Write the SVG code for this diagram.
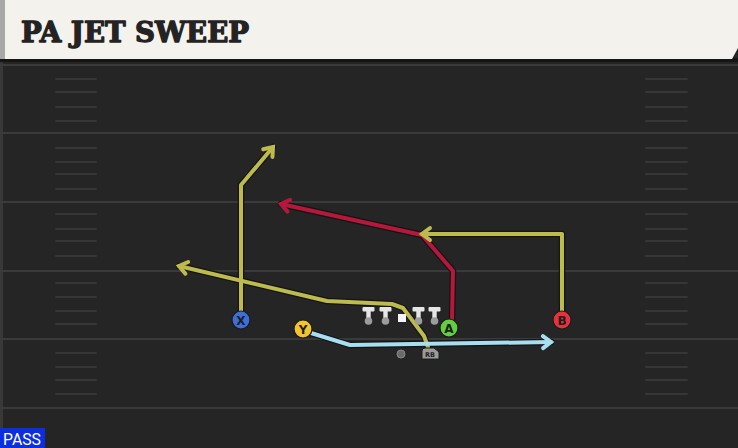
<svg xmlns="http://www.w3.org/2000/svg" width="738" height="448" viewBox="0 0 738 448">
<style>
.yard{stroke:#3a3a3a;stroke-width:2;fill:none}
.hash{stroke:#363636;stroke-width:2;fill:none;stroke-linecap:round}
.outline{stroke:#141414;stroke-width:6.5;fill:none;stroke-linejoin:round;stroke-linecap:round}
.route{stroke-width:4;fill:none;stroke-linejoin:round;stroke-linecap:round}
.olive{stroke:#bdbb4d}
.red{stroke:#b5183a}
.blue{stroke:#a8dff0}
.pl{stroke:#1c1c1c;stroke-width:1.2}
.lbl{font-family:"DejaVu Sans","Liberation Sans",sans-serif;font-weight:bold;font-size:12px;fill:#1e1e1e;text-anchor:middle}
.ol{fill:#e6e6e6}
.olball{fill:#9c9c9c}
</style>
<defs>
<marker id="aOlive" markerUnits="userSpaceOnUse" markerWidth="16" markerHeight="16" refX="0" refY="0" orient="auto" overflow="visible"><path d="M-8,-6 L0,0 L-8,6" fill="none" stroke="#bdbb4d" stroke-width="4" stroke-linejoin="miter" stroke-linecap="round"/></marker>
<marker id="aRed" markerUnits="userSpaceOnUse" markerWidth="16" markerHeight="16" refX="0" refY="0" orient="auto" overflow="visible"><path d="M-8,-6 L0,0 L-8,6" fill="none" stroke="#b5183a" stroke-width="4" stroke-linejoin="miter" stroke-linecap="round"/></marker>
<marker id="aBlue" markerUnits="userSpaceOnUse" markerWidth="16" markerHeight="16" refX="0" refY="0" orient="auto" overflow="visible"><path d="M-8,-6 L0,0 L-8,6" fill="none" stroke="#a8dff0" stroke-width="4" stroke-linejoin="miter" stroke-linecap="round"/></marker>
</defs>

<g id="field">
<rect x="0" y="0" width="738" height="448" fill="#252525"/>
<rect x="0" y="58" width="3" height="390" fill="#383838"/>
<rect x="0" y="58" width="738" height="4" fill="#151515"/>
<path class="yard" d="M0,65H738M0,133H738M0,202H738M0,271H738M0,339H738M0,408H738"/>
<path class="hash" d="M56,79H96M56,92H96M56,107H96M56,121H96M56,148H96M56,162H96M56,174H96M56,189H96M56,214H96M56,229H96M56,241H96M56,256H96M56,283H96M56,297H96M56,311H96M56,324H96M56,353H96M56,367H96M56,380H96M56,394H96"/>
<path class="hash" d="M646,79H687M646,92H687M646,107H687M646,121H687M646,148H687M646,162H687M646,174H687M646,189H687M646,214H687M646,229H687M646,241H687M646,256H687M646,283H687M646,297H687M646,311H687M646,324H687M646,353H687M646,367H687M646,380H687M646,394H687"/>
</g>

<g id="header">
<polygon points="0,0 738,0 738,48 732,59 0,59" fill="#f4f2ec"/>
<rect x="0" y="0" width="5" height="59" fill="#a8a8a8"/>
<text x="21" y="42" font-family="'DejaVu Serif','Liberation Serif',serif" font-weight="bold" font-size="27" fill="#232323" stroke="#232323" stroke-width="1.3" stroke-linejoin="round" textLength="228" lengthAdjust="spacingAndGlyphs">PA JET SWEEP</text>
</g>

<g id="connectors">
<path class="outline" d="M241,311 L241,185 L273,147"/>
<path class="outline" d="M428,347 L424,336 L403,308 L392,304 L327,301 L179,266"/>
<path class="outline" d="M452,319 L453,271 L422,235 L281,204"/>
<path class="outline" d="M562,311 L562,234 L422,234"/>
<path class="outline" d="M311,333 L350,345 L551,342"/>
<path class="route olive" d="M241,311 L241,185 L273,147" marker-end="url(#aOlive)"/>
<path class="route olive" d="M428,347 L424,336 L403,308 L392,304 L327,301 L179,266" marker-end="url(#aOlive)"/>
<path class="route red" d="M452,319 L453,271 L422,235 L281,204" marker-end="url(#aRed)"/>
<path class="route olive" d="M562,311 L562,234 L422,234" marker-end="url(#aOlive)"/>
<path class="route blue" d="M311,333 L350,345 L551,342" marker-end="url(#aBlue)"/>
</g>

<g id="oline">
<g><rect class="ol" x="362.5" y="307" width="12" height="4.5" rx="1"/><rect class="ol" x="366.3" y="307" width="4.4" height="13"/><circle class="olball" cx="368.5" cy="321" r="3.8"/></g>
<g><rect class="ol" x="379.5" y="307" width="12" height="4.5" rx="1"/><rect class="ol" x="383.3" y="307" width="4.4" height="13"/><circle class="olball" cx="385.5" cy="321" r="3.8"/></g>
<g><rect class="ol" x="412.5" y="307" width="12" height="4.5" rx="1"/><rect class="ol" x="416.3" y="307" width="4.4" height="13"/><circle class="olball" cx="418.5" cy="321" r="3.8"/></g>
<g><rect class="ol" x="428.5" y="307" width="12" height="4.5" rx="1"/><rect class="ol" x="432.3" y="307" width="4.4" height="13"/><circle class="olball" cx="434.5" cy="321" r="3.8"/></g>
</g>
<g id="center"><rect x="398" y="314" width="8" height="8" fill="#f4f4f4"/></g>
<g id="qb"><circle cx="401" cy="354" r="4" fill="#6a6a6a" stroke="#8a8a8a" stroke-width="1"/></g>

<g id="X"><circle class="pl" cx="241" cy="320" r="9" fill="#3d6fd6"/><text class="lbl" x="241" y="324.5">X</text></g>
<g id="Y"><circle class="pl" cx="303" cy="329" r="9" fill="#f2c52e"/><text class="lbl" x="303" y="333.5">Y</text></g>
<g id="A"><circle class="pl" cx="449" cy="328" r="9" fill="#62cf3c"/><text class="lbl" x="449" y="332.5">A</text></g>
<g id="B"><circle class="pl" cx="562" cy="320" r="9" fill="#e6323d"/><text class="lbl" x="562" y="324.5">B</text></g>
<g id="RB"><path d="M425,348 H434 L439,352 V359 H422 V351 Q422,348 425,348 Z" fill="#9b9b9b" stroke="#1c1c1c" stroke-width="1"/><text x="430" y="357" font-family="'DejaVu Sans','Liberation Sans',sans-serif" font-weight="bold" font-size="6.5" fill="#222" text-anchor="middle">RB</text></g>

<g id="pass">
<rect x="0" y="428" width="45" height="20" fill="#0b2fe0"/>
<text x="3" y="445" font-family="Roboto,'Liberation Sans',sans-serif" font-size="17" fill="#ffffff" textLength="38" lengthAdjust="spacingAndGlyphs">PASS</text>
</g>
</svg>
